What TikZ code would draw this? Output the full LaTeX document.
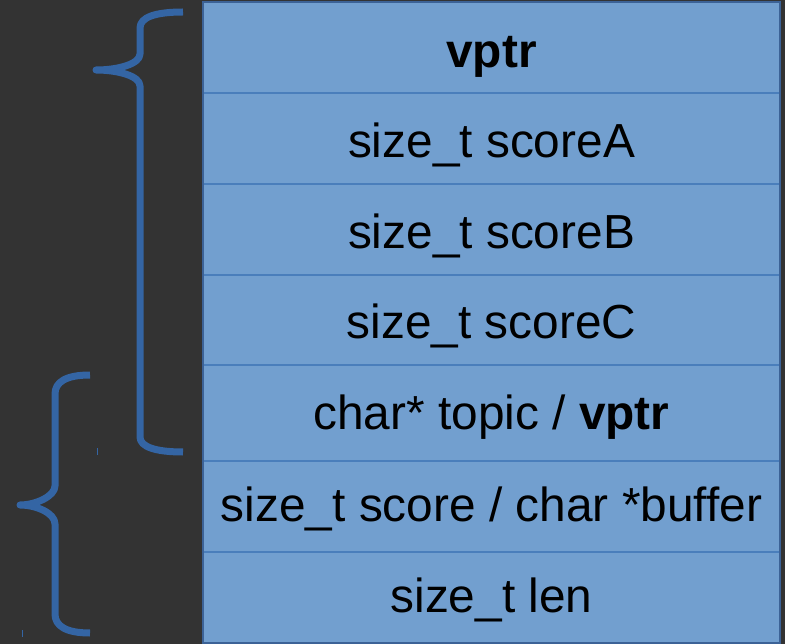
\documentclass[tikz,border=0pt]{standalone}
\usepackage{fontspec}
\setmainfont{Liberation Sans}
\definecolor{bg}{RGB}{51,51,51}
\definecolor{cellfill}{RGB}{114,159,207}
\definecolor{cellline}{RGB}{74,126,187}
\definecolor{outline}{RGB}{60,98,150}
\definecolor{bracecol}{RGB}{52,101,164}
\begin{document}
\begin{tikzpicture}[x=1pt,y=-1pt,
  celltext/.style={anchor=base,inner sep=0pt,font=\fontsize{47.8}{57}\selectfont,text=black},
  bracestyle/.style={draw=bracecol,line width=7pt,line join=round,line cap=butt},
  tick/.style={draw=bracecol,line width=1pt}]
\useasboundingbox (0,0) rectangle (785,644);
\fill[bg] (0,0) rectangle (785,644);
% table
\fill[cellfill] (203,2) rectangle (780,643);
\foreach \yy in {93,184,275,365,461,552}
  \draw[cellline,line width=1.5pt] (203,\yy) -- (780,\yy);
\draw[outline,line width=1.5pt] (203,2) rectangle (780,643);
% texts
\node[celltext] (r1) at (491.5,67.5) {\textbf{vptr}};
\node[celltext] (r2) at (491.5,157.5) {size\_t scoreA};
\node[celltext] (r3) at (491.5,248.3) {size\_t scoreB};
\node[celltext] (r4) at (491.5,338.5) {size\_t scoreC};
\node[celltext] (r5) at (491.5,429.5) {char* topic / \textbf{vptr}};
\node[celltext] (r6) at (491.5,521) {size\_t score / char *buffer};
\node[celltext] (r7) at (491.5,612) {size\_t len};
% braces
\coordinate (b1top) at (183,12);
\coordinate (b1tip) at (96,70);
\coordinate (b1bot) at (183,452);
\draw[bracestyle] (b1top) .. controls (156,12) and (140,17) .. (140,28) -- (140,54)
  .. controls (140,64) and (118,70) .. (b1tip)
  .. controls (118,70) and (140,76) .. (140,86) -- (140,437)
  .. controls (140,447) and (156,452) .. (b1bot);
\coordinate (b2top) at (90,375);
\coordinate (b2tip) at (20,505);
\coordinate (b2bot) at (90,633);
\draw[bracestyle] (b2top) .. controls (66,375) and (55,382) .. (55,394) -- (55,486)
  .. controls (55,496) and (36,505) .. (b2tip)
  .. controls (36,505) and (55,513) .. (55,524) -- (55,614)
  .. controls (55,626) and (66,633) .. (b2bot);
% small marks
\coordinate (t1a) at (97.5,448);
\coordinate (t1b) at (97.5,455);
\draw[tick] (t1a) -- (t1b);
\coordinate (t2a) at (22,630);
\coordinate (t2b) at (22,637);
\draw[tick] (t2a) -- (t2b);
\end{tikzpicture}
\end{document}
